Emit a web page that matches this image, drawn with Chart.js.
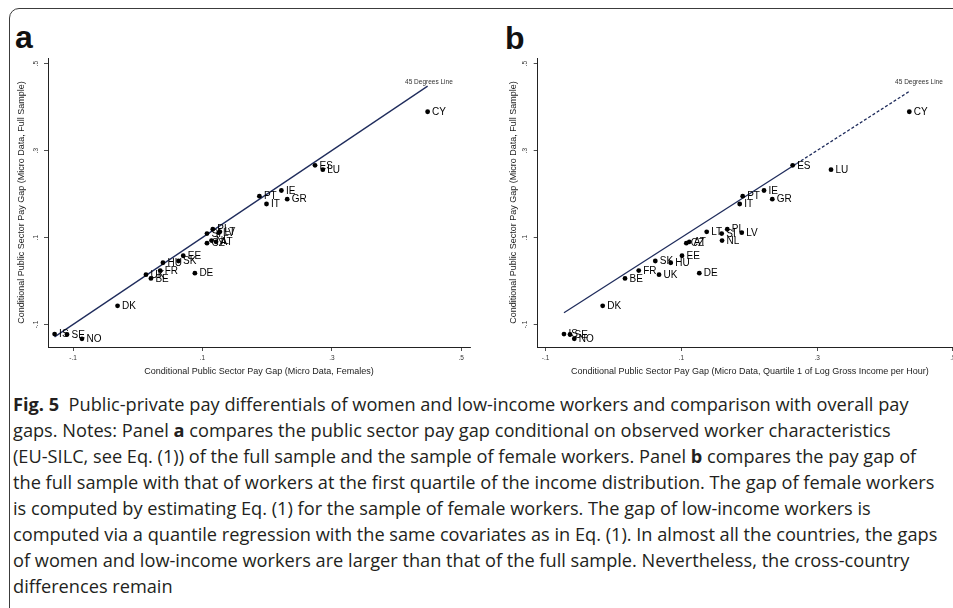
<!DOCTYPE html>
<html>
<head>
<meta charset="utf-8">
<script src="https://cdn.jsdelivr.net/npm/chart.js@4.4.1/dist/chart.umd.min.js"></script>
<style>
  html, body { margin: 0; padding: 0; background: #fff; overflow: hidden; width: 953px; height: 608px; }
  #frame { position: absolute; left: 9px; top: 8px; width: 1000px; height: 700px;
           border: 1.3px solid #3c3c3c; border-radius: 10px; }
  .panel { position: absolute; top: 0; }
  #wrapA { left: 0; }
  #wrapB { left: 480px; }
  .tag { position: absolute; font: bold 32px/32px "Liberation Sans", Arial, sans-serif; color: #111; }
  #caption { position: absolute; left: 13px; top: 391px; font-family: "Open Sans", sans-serif;
             font-size: 18.2px; line-height: 26px; color: #231f20; white-space: nowrap; }
  #caption b { font-weight: 700; }
</style>
</head>
<body>
<div id="frame"></div>
<div class="tag" style="left:15px;top:21px">a</div>
<div class="tag" style="left:505px;top:22px">b</div>
<div class="panel" id="wrapA"><canvas id="chartA" width="480" height="380"></canvas></div>
<div class="panel" id="wrapB"><canvas id="chartB" width="495" height="380"></canvas></div>
<div id="caption">
  <div><b>Fig. 5</b>&nbsp; Public-private pay differentials of women and low-income workers and comparison with overall pay</div>
  <div>gaps. Notes: Panel <b>a</b> compares the public sector pay gap conditional on observed worker characteristics</div>
  <div>(EU-SILC, see Eq. (1)) of the full sample and the sample of female workers. Panel <b>b</b> compares the pay gap of</div>
  <div>the full sample with that of workers at the first quartile of the income distribution. The gap of female workers</div>
  <div>is computed by estimating Eq. (1) for the sample of female workers. The gap of low-income workers is</div>
  <div>computed via a quantile regression with the same covariates as in Eq. (1). In almost all the countries, the gaps</div>
  <div>of women and low-income workers are larger than that of the full sample. Nevertheless, the cross-country</div>
  <div>differences remain</div>
</div>

<script>
// ---- data ----
const countries  = ["IS", "SE", "NO", "DK", "UK", "BE", "FR", "HU", "SK", "EE", "DE", "SI", "PL",
                    "LT", "LV", "NL", "CZ", "AT", "PT", "IT", "IE", "GR", "ES", "LU", "CY"];
// y in both panels: conditional gap, full sample
const fullSample = [-0.122, -0.123, -0.133, -0.057, 0.0145, 0.006, 0.024, 0.042, 0.046, 0.058, 0.018, 0.109, 0.119,
                    0.113, 0.111, 0.093, 0.087, 0.090, 0.195, 0.177, 0.208, 0.188, 0.266, 0.256, 0.389];
// x in panel a: females
const females    = [-0.1285, -0.1093, -0.0862, -0.0312, 0.0127, 0.0204, 0.0347, 0.0389, 0.063, 0.0703, 0.0883, 0.107, 0.116,
                    0.127, 0.125, 0.114, 0.107, 0.121, 0.188, 0.199, 0.222, 0.231, 0.274, 0.286, 0.448];
// x in panel b: quartile 1 of log gross income per hour
const quartile1  = [-0.0728, -0.0639, -0.0576, -0.0158, 0.0672, 0.0171, 0.0373, 0.0844, 0.0617, 0.101, 0.1265, 0.1595, 0.1677,
                    0.1374, 0.189, 0.160, 0.1074, 0.1118, 0.1904, 0.186, 0.2218, 0.234, 0.264, 0.3205, 0.4358];

const tickValues = [-0.1, 0.1, 0.3, 0.5];
const tickText   = ["-.1", ".1", ".3", ".5"];
const yRange     = [-0.1517, 0.5126];
const xRangeA    = [-0.1387, 0.5135];
const xRangeB    = [-0.1115, 0.5134];
const noteAt     = [0.45, 0.458];   // "45 Degrees Line" note, data coords
const dashFromB  = 0.27;            // 45 line in panel b turns dashed here

const FONT = '"Liberation Sans", Arial, sans-serif';
const NAVY = "#1f2c5c";
const INK = "#222";

// country codes, line note and rotated y tick labels
const annotate = {
  id: "annotate",
  afterDatasetsDraw(chart) {
    const ctx = chart.ctx;
    const xs = chart.scales.x, ys = chart.scales.y;
    ctx.save();
    ctx.fillStyle = "#000";
    ctx.font = "10px " + FONT;
    ctx.textBaseline = "middle";
    chart.getDatasetMeta(0).data.forEach((pt, i) => {
      ctx.fillText(countries[i], pt.x + 4.5, pt.y + 0.5);
    });

    ctx.fillStyle = "#333";
    ctx.font = "6.5px " + FONT;
    ctx.textAlign = "center";
    ctx.fillText("45 Degrees Line", xs.getPixelForValue(noteAt[0]), ys.getPixelForValue(noteAt[1]));

    ys.ticks.forEach((t, i) => {
      ctx.save();
      ctx.translate(ys.right - 12, ys.getPixelForValue(t.value));
      ctx.rotate(-Math.PI / 2);
      ctx.fillText(tickText[i], 0, 0);
      ctx.restore();
    });
    ctx.restore();
  }
};

function panel(id, xs, xRange, yWidth, yTitlePad, padRight, xTitle, dashFrom) {
  const pts = xs.map((x, i) => ({ x: x, y: fullSample[i] }));
  const lo = Math.min(...xs), hi = Math.max(...xs);
  const diag = dashFrom ? [lo, dashFrom, hi] : [lo, hi];

  return new Chart(document.getElementById(id), {
    type: "scatter",
    data: {
      datasets: [
        { data: pts, pointRadius: 2.4, backgroundColor: "#000", borderWidth: 0 },
        {
          data: diag.map((v) => ({ x: v, y: v })),
          showLine: true, pointRadius: 0, borderColor: NAVY, borderWidth: 1.3,
          segment: { borderDash: (c) => (dashFrom && c.p0.parsed.x >= dashFrom ? [3, 2] : undefined) },
        },
      ],
    },
    options: {
      responsive: false,
      animation: false,
      events: [],
      layout: { padding: { top: 58, right: padRight, bottom: 3, left: 0 } },
      plugins: { legend: { display: false }, tooltip: { enabled: false } },
      scales: {
        x: {
          type: "linear", min: xRange[0], max: xRange[1],
          afterBuildTicks: (s) => { s.ticks = tickValues.map((v) => ({ value: v })); },
          afterFit: (s) => { s.height = 30; },
          ticks: { callback: (v, i) => tickText[i], font: { size: 6.5, family: FONT }, color: "#333",
                   padding: 3, maxRotation: 0, autoSkip: false },
          grid: { drawOnChartArea: false, drawTicks: true, tickLength: 4, color: INK, lineWidth: 0.8 },
          border: { display: true, color: INK, width: 1 },
          title: { display: true, text: xTitle, color: INK, font: { size: 9, family: FONT },
                   padding: { top: 0, bottom: 0.2 } },
        },
        y: {
          type: "linear", min: yRange[0], max: yRange[1],
          afterBuildTicks: (s) => { s.ticks = tickValues.map((v) => ({ value: v })); },
          afterFit: (s) => { s.width = yWidth; },
          ticks: { display: false },
          grid: { drawOnChartArea: false, drawTicks: true, tickLength: 4, color: INK, lineWidth: 0.8 },
          border: { display: true, color: INK, width: 1 },
          title: { display: true, text: "Conditional Public Sector Pay Gap (Micro Data, Full Sample)",
                   color: INK, font: { size: 9, family: FONT }, padding: { top: yTitlePad, bottom: 0 } },
        },
      },
    },
    plugins: [annotate],
  });
}

panel("chartA", females, xRangeA, 48, 16.6, 10,
      "Conditional Public Sector Pay Gap (Micro Data, Females)", null);
panel("chartB", quartile1, xRangeB, 57.7, 27.9, 13,
      "Conditional Public Sector Pay Gap (Micro Data, Quartile 1 of Log Gross Income per Hour)", dashFromB);
</script>
</body>
</html>
